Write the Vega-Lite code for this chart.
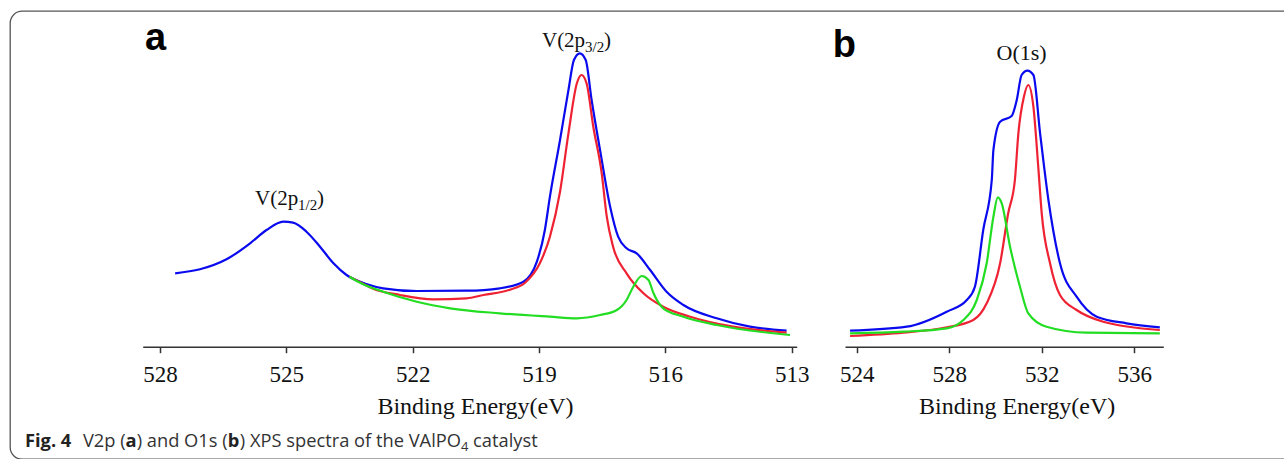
{
  "$schema": "https://vega.github.io/schema/vega-lite/v6.json",
  "width": 1294,
  "height": 448,
  "autosize": {"type": "none"},
  "padding": {"left": 10, "top": 11, "right": -20, "bottom": 0},
  "background": "white",
  "config": {"view": {"stroke": "#555555", "strokeWidth": 1.3, "cornerRadius": 12}},
  "datasets": {
    "v2p": [
      {"curve": "total", "E": 527.64, "v": 73.4},
      {"curve": "total", "E": 527.05, "v": 77.4},
      {"curve": "total", "E": 526.42, "v": 87.4},
      {"curve": "total", "E": 525.86, "v": 103.4},
      {"curve": "total", "E": 525.47, "v": 116.7},
      {"curve": "total", "E": 525.07, "v": 125},
      {"curve": "total", "E": 524.84, "v": 124},
      {"curve": "total", "E": 524.52, "v": 115},
      {"curve": "total", "E": 524.2, "v": 100},
      {"curve": "total", "E": 523.88, "v": 83.4},
      {"curve": "total", "E": 523.57, "v": 71.7},
      {"curve": "total", "E": 523.1, "v": 62.7},
      {"curve": "total", "E": 522.7, "v": 58.4},
      {"curve": "total", "E": 521.9, "v": 55.7},
      {"curve": "total", "E": 520.72, "v": 56},
      {"curve": "total", "E": 519.93, "v": 58.4},
      {"curve": "total", "E": 519.37, "v": 65},
      {"curve": "total", "E": 519.05, "v": 85},
      {"curve": "total", "E": 518.86, "v": 116.7},
      {"curve": "total", "E": 518.74, "v": 150},
      {"curve": "total", "E": 518.5, "v": 206.7},
      {"curve": "total", "E": 518.3, "v": 256.7},
      {"curve": "total", "E": 518.17, "v": 286.7},
      {"curve": "total", "E": 518.03, "v": 293.4},
      {"curve": "total", "E": 517.89, "v": 286.7},
      {"curve": "total", "E": 517.75, "v": 246.7},
      {"curve": "total", "E": 517.55, "v": 196.7},
      {"curve": "total", "E": 517.31, "v": 140},
      {"curve": "total", "E": 517.12, "v": 110},
      {"curve": "total", "E": 516.92, "v": 98.4},
      {"curve": "total", "E": 516.68, "v": 93.4},
      {"curve": "total", "E": 516.36, "v": 76.7},
      {"curve": "total", "E": 515.97, "v": 55},
      {"curve": "total", "E": 515.57, "v": 41.7},
      {"curve": "total", "E": 514.78, "v": 28.4},
      {"curve": "total", "E": 513.99, "v": 20},
      {"curve": "total", "E": 513.12, "v": 16},
      {"curve": "component 1", "E": 523.5, "v": 70},
      {"curve": "component 1", "E": 523.2, "v": 63.5},
      {"curve": "component 1", "E": 522.94, "v": 58},
      {"curve": "component 1", "E": 522.3, "v": 51.7},
      {"curve": "component 1", "E": 521.51, "v": 47.4},
      {"curve": "component 1", "E": 520.72, "v": 48.4},
      {"curve": "component 1", "E": 520.32, "v": 51.7},
      {"curve": "component 1", "E": 519.69, "v": 57},
      {"curve": "component 1", "E": 519.33, "v": 64},
      {"curve": "component 1", "E": 518.98, "v": 83.4},
      {"curve": "component 1", "E": 518.74, "v": 110},
      {"curve": "component 1", "E": 518.5, "v": 155},
      {"curve": "component 1", "E": 518.3, "v": 213.4},
      {"curve": "component 1", "E": 518.1, "v": 263.4},
      {"curve": "component 1", "E": 517.99, "v": 271.7},
      {"curve": "component 1", "E": 517.87, "v": 263.4},
      {"curve": "component 1", "E": 517.71, "v": 220},
      {"curve": "component 1", "E": 517.51, "v": 173.4},
      {"curve": "component 1", "E": 517.39, "v": 130},
      {"curve": "component 1", "E": 517.24, "v": 100},
      {"curve": "component 1", "E": 516.92, "v": 73.4},
      {"curve": "component 1", "E": 516.52, "v": 53.4},
      {"curve": "component 1", "E": 516.05, "v": 40},
      {"curve": "component 1", "E": 515.41, "v": 30},
      {"curve": "component 1", "E": 514.39, "v": 20},
      {"curve": "component 1", "E": 513.12, "v": 14},
      {"curve": "component 2", "E": 523.5, "v": 70},
      {"curve": "component 2", "E": 523.2, "v": 63},
      {"curve": "component 2", "E": 522.7, "v": 55},
      {"curve": "component 2", "E": 521.9, "v": 45},
      {"curve": "component 2", "E": 521.11, "v": 38.4},
      {"curve": "component 2", "E": 519.93, "v": 33.4},
      {"curve": "component 2", "E": 518.74, "v": 30},
      {"curve": "component 2", "E": 518.1, "v": 28.4},
      {"curve": "component 2", "E": 517.55, "v": 31.7},
      {"curve": "component 2", "E": 517.15, "v": 36.7},
      {"curve": "component 2", "E": 516.92, "v": 46.7},
      {"curve": "component 2", "E": 516.76, "v": 60},
      {"curve": "component 2", "E": 516.56, "v": 70.7},
      {"curve": "component 2", "E": 516.4, "v": 66.7},
      {"curve": "component 2", "E": 516.28, "v": 53.4},
      {"curve": "component 2", "E": 516.05, "v": 38.4},
      {"curve": "component 2", "E": 515.57, "v": 30},
      {"curve": "component 2", "E": 514.78, "v": 21.7},
      {"curve": "component 2", "E": 513.04, "v": 11.7}
    ],
    "o1s": [
      {"curve": "total", "E": 523.71, "v": 16},
      {"curve": "total", "E": 526.16, "v": 20},
      {"curve": "total", "E": 527.89, "v": 35},
      {"curve": "total", "E": 528.76, "v": 46.7},
      {"curve": "total", "E": 529.11, "v": 60},
      {"curve": "total", "E": 529.47, "v": 116.7},
      {"curve": "total", "E": 529.84, "v": 166.7},
      {"curve": "total", "E": 529.91, "v": 196.7},
      {"curve": "total", "E": 530.2, "v": 225},
      {"curve": "total", "E": 530.7, "v": 230.7},
      {"curve": "total", "E": 530.92, "v": 246.7},
      {"curve": "total", "E": 531.13, "v": 271.7},
      {"curve": "total", "E": 531.38, "v": 276},
      {"curve": "total", "E": 531.64, "v": 271.7},
      {"curve": "total", "E": 531.93, "v": 213.4},
      {"curve": "total", "E": 532.29, "v": 146.7},
      {"curve": "total", "E": 532.79, "v": 83.4},
      {"curve": "total", "E": 533.51, "v": 50},
      {"curve": "total", "E": 534.38, "v": 30},
      {"curve": "total", "E": 535.67, "v": 23.4},
      {"curve": "total", "E": 537.11, "v": 19.4},
      {"curve": "component 1", "E": 523.71, "v": 10.7},
      {"curve": "component 1", "E": 526.01, "v": 14},
      {"curve": "component 1", "E": 527.89, "v": 19.4},
      {"curve": "component 1", "E": 529.04, "v": 26.7},
      {"curve": "component 1", "E": 529.62, "v": 43.4},
      {"curve": "component 1", "E": 530.2, "v": 83.4},
      {"curve": "component 1", "E": 530.55, "v": 133.4},
      {"curve": "component 1", "E": 530.84, "v": 166.7},
      {"curve": "component 1", "E": 530.99, "v": 213.4},
      {"curve": "component 1", "E": 531.23, "v": 250},
      {"curve": "component 1", "E": 531.42, "v": 261.7},
      {"curve": "component 1", "E": 531.64, "v": 240},
      {"curve": "component 1", "E": 531.85, "v": 180},
      {"curve": "component 1", "E": 532.0, "v": 133.4},
      {"curve": "component 1", "E": 532.36, "v": 83.4},
      {"curve": "component 1", "E": 532.79, "v": 51.7},
      {"curve": "component 1", "E": 533.51, "v": 36.7},
      {"curve": "component 1", "E": 534.66, "v": 25},
      {"curve": "component 1", "E": 537.11, "v": 16.7},
      {"curve": "component 2", "E": 523.71, "v": 13.4},
      {"curve": "component 2", "E": 526.01, "v": 15},
      {"curve": "component 2", "E": 527.89, "v": 18.4},
      {"curve": "component 2", "E": 528.61, "v": 26.7},
      {"curve": "component 2", "E": 529.19, "v": 46.7},
      {"curve": "component 2", "E": 529.62, "v": 83.4},
      {"curve": "component 2", "E": 529.91, "v": 130},
      {"curve": "component 2", "E": 530.1, "v": 149.4},
      {"curve": "component 2", "E": 530.27, "v": 143.4},
      {"curve": "component 2", "E": 530.63, "v": 100},
      {"curve": "component 2", "E": 531.06, "v": 60},
      {"curve": "component 2", "E": 531.42, "v": 33.4},
      {"curve": "component 2", "E": 532.21, "v": 20},
      {"curve": "component 2", "E": 533.94, "v": 14},
      {"curve": "component 2", "E": 537.11, "v": 13.4}
    ],
    "peakMain": [
      {"E": 525.744, "v": 141.7, "label": "V(2p"},
      {"E": 524.272, "v": 141.7, "label": ")"},
      {"E": 518.929, "v": 299.7, "label": "V(2p"},
      {"E": 517.456, "v": 299.7, "label": ")"}
    ],
    "peakSub": [
      {"E": 524.723, "v": 137.2, "label": "1/2"},
      {"E": 517.907, "v": 295.2, "label": "3/2"}
    ],
    "letterA": [{"E": 528.356, "v": 296.7, "label": "a"}],
    "letterB": [{"E": 522.962, "v": 290, "label": "b"}],
    "o1sLabel": [{"E": 531.13, "v": 286.7, "label": "O(1s)"}],
    "capNormal": [
      {"E": 529.829, "v": -100.3, "label": "V2p ("},
      {"E": 528.553, "v": -100.3, "label": ") and O1s ("},
      {"E": 526.105, "v": -100.3, "label": ") XPS spectra of the VAlPO"},
      {"E": 520.565, "v": -100.3, "label": "catalyst"}
    ],
    "capBold": [
      {"E": 531.206, "v": -100.3, "label": "Fig. 4"},
      {"E": 528.817, "v": -100.3, "label": "a"},
      {"E": 526.388, "v": -100.3, "label": "b"}
    ],
    "capSub": [{"E": 520.852, "v": -104.3, "label": "4"}]
  },
  "resolve": {"scale": {"x": "independent"}, "axis": {"x": "independent"}},
  "layer": [
    {
      "encoding": {
        "x": {
          "field": "E", "type": "quantitative",
          "scale": {"domain": [528.41, 512.88], "range": [132.7, 786.7], "nice": false, "zero": false},
          "axis": {
            "orient": "bottom", "offset": -112.3, "values": [528, 525, 522, 519, 516, 513], "format": "d",
            "title": "Binding Energy(eV)", "grid": false,
            "domainColor": "#333333", "domainWidth": 1.5, "tickColor": "#333333", "tickWidth": 1.5, "tickSize": 6,
            "labelFont": "Liberation Serif", "labelFontSize": 23, "labelColor": "#111111",
            "labelBaseline": "alphabetic", "labelPadding": 29, "labelFlush": false, "labelOverlap": false,
            "titleFont": "Liberation Serif", "titleFontSize": 24, "titleFontWeight": "normal", "titleColor": "#111111",
            "titleX": 465, "titleY": 66.3, "titleBaseline": "alphabetic", "titleAlign": "center"
          }
        },
        "y": {
          "field": "v", "type": "quantitative",
          "scale": {"domain": [0, 300], "range": [335.7, 35.7], "nice": false, "zero": false},
          "axis": null
        }
      },
      "layer": [
        {
          "data": {"name": "v2p"},
          "mark": {"type": "line", "interpolate": "monotone", "strokeWidth": 2.2},
          "encoding": {
            "color": {"field": "curve", "type": "nominal", "legend": null,
              "scale": {"domain": ["component 2", "component 1", "total"], "range": ["#22dd22", "#ee2233", "#0a0aee"]}}
          }
        },
        {
          "data": {"name": "peakMain"},
          "mark": {"type": "text", "font": "Liberation Serif", "fontSize": 21, "align": "left", "baseline": "alphabetic", "color": "#111111"},
          "encoding": {"text": {"field": "label"}}
        },
        {
          "data": {"name": "peakSub"},
          "mark": {"type": "text", "font": "Liberation Serif", "fontSize": 15, "align": "left", "baseline": "alphabetic", "color": "#111111"},
          "encoding": {"text": {"field": "label"}}
        },
        {
          "data": {"name": "letterA"},
          "mark": {"type": "text", "font": "Liberation Sans", "fontSize": 38, "fontWeight": "bold", "align": "left", "baseline": "alphabetic", "color": "#000000"},
          "encoding": {"text": {"field": "label"}}
        },
        {
          "data": {"name": "capNormal"},
          "mark": {"type": "text", "font": "Open Sans", "fontSize": 18.3, "align": "left", "baseline": "alphabetic", "color": "#333333"},
          "encoding": {"text": {"field": "label"}}
        },
        {
          "data": {"name": "capBold"},
          "mark": {"type": "text", "font": "Open Sans", "fontSize": 18.3, "fontWeight": "bold", "align": "left", "baseline": "alphabetic", "color": "#222222"},
          "encoding": {"text": {"field": "label"}}
        },
        {
          "data": {"name": "capSub"},
          "mark": {"type": "text", "font": "Open Sans", "fontSize": 13, "align": "left", "baseline": "alphabetic", "color": "#333333"},
          "encoding": {"text": {"field": "label"}}
        }
      ]
    },
    {
      "encoding": {
        "x": {
          "field": "E", "type": "quantitative",
          "scale": {"domain": [523.49, 537.26], "range": [835, 1153.3], "nice": false, "zero": false},
          "axis": {
            "orient": "bottom", "offset": -112.3, "values": [524, 528, 532, 536], "format": "d",
            "title": "Binding Energy(eV)", "grid": false,
            "domainColor": "#333333", "domainWidth": 1.5, "tickColor": "#333333", "tickWidth": 1.5, "tickSize": 6,
            "labelFont": "Liberation Serif", "labelFontSize": 23, "labelColor": "#111111",
            "labelBaseline": "alphabetic", "labelPadding": 29, "labelFlush": false, "labelOverlap": false,
            "titleFont": "Liberation Serif", "titleFontSize": 24, "titleFontWeight": "normal", "titleColor": "#111111",
            "titleX": 1006.7, "titleY": 66.3, "titleBaseline": "alphabetic", "titleAlign": "center"
          }
        },
        "y": {
          "field": "v", "type": "quantitative",
          "scale": {"domain": [0, 300], "range": [335.7, 35.7], "nice": false, "zero": false},
          "axis": null
        }
      },
      "layer": [
        {
          "data": {"name": "o1s"},
          "mark": {"type": "line", "interpolate": "monotone", "strokeWidth": 2.2},
          "encoding": {
            "color": {"field": "curve", "type": "nominal", "legend": null,
              "scale": {"domain": ["component 2", "component 1", "total"], "range": ["#22dd22", "#ee2233", "#0a0aee"]}}
          }
        },
        {
          "data": {"name": "o1sLabel"},
          "mark": {"type": "text", "font": "Liberation Serif", "fontSize": 22, "align": "center", "baseline": "alphabetic", "color": "#111111"},
          "encoding": {"text": {"field": "label"}}
        },
        {
          "data": {"name": "letterB"},
          "mark": {"type": "text", "font": "Liberation Sans", "fontSize": 38, "fontWeight": "bold", "align": "left", "baseline": "alphabetic", "color": "#000000"},
          "encoding": {"text": {"field": "label"}}
        }
      ]
    }
  ]
}
